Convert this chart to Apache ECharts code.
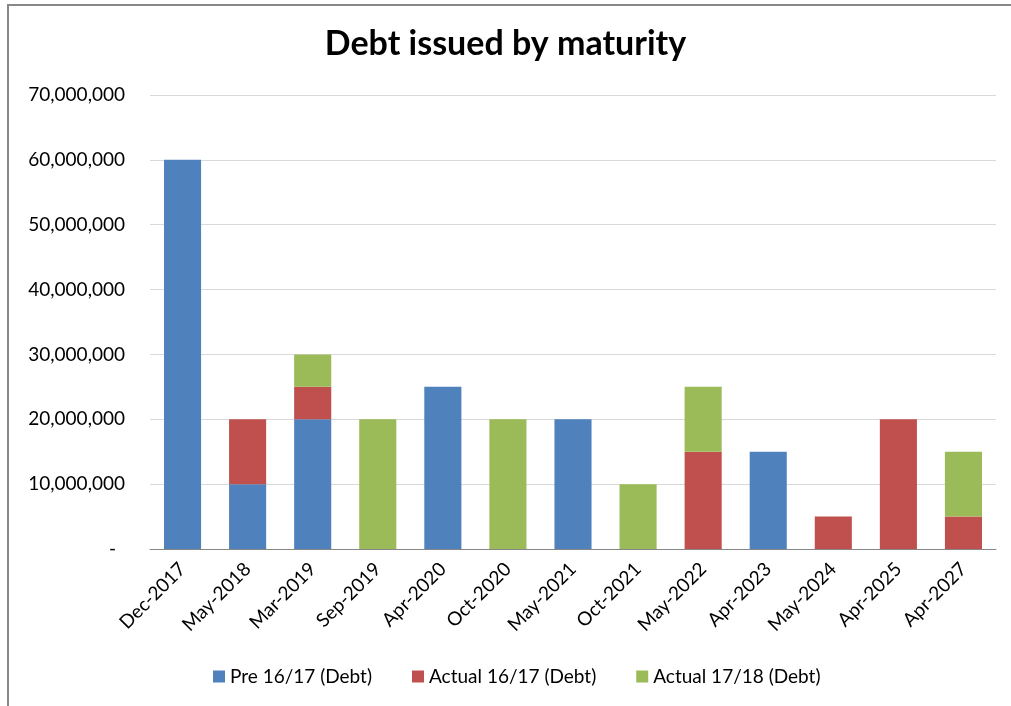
<!DOCTYPE html>
<html>
<head>
<meta charset="utf-8">
<script src="https://cdn.jsdelivr.net/npm/echarts@6/dist/echarts.min.js"></script>
<style>
html,body{margin:0;padding:0;background:#fff;}
#frame{position:absolute;left:7px;top:4px;width:1010px;height:710px;border-left:2px solid #878787;border-top:2px solid #878787;}
#chart{position:absolute;left:0;top:0;width:1011px;height:706px;}
</style>
</head>
<body>
<div id="frame"></div>
<div id="chart"></div>
<script>
var categories = ['Dec-2017','May-2018','Mar-2019','Sep-2019','Apr-2020','Oct-2020','May-2021','Oct-2021','May-2022','Apr-2023','May-2024','Apr-2025','Apr-2027'];
var pre1617 = [60000000,10000000,20000000,0,25000000,0,20000000,0,0,15000000,0,0,0];
var actual1617 = [0,10000000,5000000,0,0,0,0,0,15000000,0,5000000,20000000,5000000];
var actual1718 = [0,0,5000000,20000000,0,20000000,0,10000000,10000000,0,0,0,10000000];
var seriesNames = ['Pre 16/17 (Debt)','Actual 16/17 (Debt)','Actual 17/18 (Debt)'];
var colors = ['#4F81BD','#C0504D','#9BBB59'];

var font = 'Lato, "Open Sans", sans-serif';
var chart = echarts.init(document.getElementById('chart'));
function mk(name, data, color){
  return {name:name,type:'bar',stack:'total',data:data,barWidth:'57%',
    itemStyle:{color:color},emphasis:{disabled:true}};
}
chart.setOption({
  animation:false,
  color:colors,
  title:{text:'Debt issued by maturity',left:'center',top:22,
    textStyle:{fontFamily:font,fontSize:34,fontWeight:'bold',color:'#000'}},
  grid:{left:150,right:15,top:95,bottom:157,containLabel:false},
  legend:{bottom:15,left:208,itemWidth:12,itemHeight:12,itemGap:40,icon:'rect',
    textStyle:{fontFamily:font,fontSize:19,color:'#000'},data:seriesNames},
  xAxis:{type:'category',data:categories,
    axisLine:{lineStyle:{color:'#868686',width:1}},
    axisTick:{show:false},
    axisLabel:{rotate:45,interval:0,margin:17,fontFamily:font,fontSize:19,color:'#000'}},
  yAxis:{type:'value',min:0,max:70000000,interval:10000000,
    axisLine:{show:false},axisTick:{show:false},
    splitLine:{lineStyle:{color:'#D9D9D9',width:1}},
    axisLabel:{margin:25,fontFamily:font,fontSize:19,color:'#000',
      formatter:function(v){return v===0?'{z|-}':v.toLocaleString('en-US');},
      rich:{z:{fontFamily:font,fontSize:19,color:'#000',padding:[0,9,0,0]}}}},
  series:[mk(seriesNames[0],pre1617,colors[0]),mk(seriesNames[1],actual1617,colors[1]),mk(seriesNames[2],actual1718,colors[2])]
});
</script>
</body>
</html>
